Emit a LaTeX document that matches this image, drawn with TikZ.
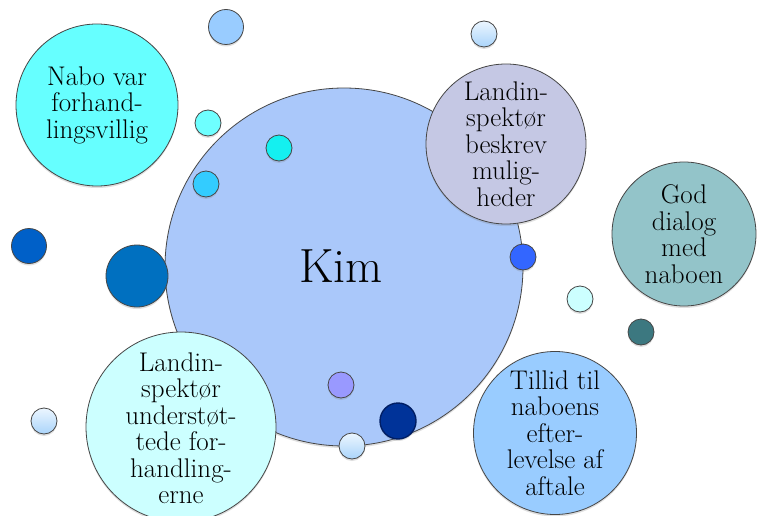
\documentclass[tikz,border=0pt]{standalone}
\usepackage{fontspec}
\usetikzlibrary{shadows}
\definecolor{kimfill}{RGB}{170,200,250}
\definecolor{nabofill}{RGB}{102,255,255}
\definecolor{beskrevfill}{RGB}{197,200,228}
\definecolor{dialogfill}{RGB}{147,196,201}
\definecolor{tillidfill}{RGB}{153,204,255}
\definecolor{understfill}{RGB}{204,255,255}
\definecolor{edgecol}{RGB}{70,70,70}
\definecolor{gradtop}{RGB}{236,246,255}
\definecolor{gradbot}{RGB}{170,212,250}
\tikzset{
  bubble/.style={circle, draw=edgecol, line width=0.8pt, inner sep=0pt, minimum size=#1,
    drop shadow={shadow xshift=0pt, shadow yshift=-2pt, opacity=0.25}},
  lbl/.style={align=center, font=\fontsize{27}{26.5}\selectfont, inner sep=0pt},
  gradbubble/.style={bubble=#1, top color=gradtop, bottom color=gradbot}
}
\begin{document}
\begin{tikzpicture}[x=1pt, y=-1pt]
\useasboundingbox[fill=white] (0,0) rectangle (760,516);
% central circle
\node[bubble=358pt, fill=kimfill] (kim) at (344,267) {};
\node[font=\fontsize{48}{50}\selectfont, inner sep=0pt] (kimtxt) at (341,266) {Kim};
% small circles
\node[bubble=35pt, fill={rgb,255:red,153;green,204;blue,255}] (s1) at (226,27) {};
\node[bubble=26pt, fill={rgb,255:red,110;green,255;blue,255}] (s2) at (208,123) {};
\node[bubble=26pt, fill={rgb,255:red,20;green,240;blue,240}] (s3) at (279,148) {};
\node[bubble=26pt, fill={rgb,255:red,51;green,204;blue,255}] (s4) at (206,184) {};
\node[bubble=35pt, fill={rgb,255:red,0;green,96;blue,200}] (s5) at (29,246) {};
\node[bubble=62pt, fill={rgb,255:red,0;green,112;blue,192}] (s6) at (137,276) {};
\node[gradbubble=26pt] (s7) at (484,34) {};
\node[bubble=26pt, fill={rgb,255:red,51;green,102;blue,255}] (s8) at (523,257) {};
\node[bubble=26pt, fill={rgb,255:red,204;green,255;blue,255}] (s9) at (580,299) {};
\node[bubble=26pt, fill={rgb,255:red,60;green,120;blue,128}] (s10) at (641,332) {};
\node[bubble=26pt, fill={rgb,255:red,153;green,153;blue,255}] (s11) at (341,385) {};
\node[gradbubble=26pt] (s12) at (44,421) {};
% big text bubbles
\node[bubble=162pt, fill=nabofill] (nabo) at (97,105) {};
\node[lbl] at (nabo.center) {Nabo var\\forhand-\\lingsvillig};
\node[bubble=160pt, fill=beskrevfill] (besk) at (506,144) {};
\node[lbl] at (besk.center) {Landin-\\spektør\\beskrev\\mulig-\\heder};
\node[bubble=144pt, fill=dialogfill] (dial) at (684,234) {};
\node[lbl] at (dial.center) {God\\dialog\\med\\naboen};
\node[bubble=163pt, fill=tillidfill] (till) at (555,433) {};
\node[lbl] at (till.center) {Tillid til\\naboens\\efter-\\levelse af\\aftale};
\node[bubble=190pt, fill=understfill] (unds) at (181,427) {};
\node[lbl] at ([yshift=-1pt]unds.center) {Landin-\\spektør\\understøt-\\tede for-\\handling-\\erne};
% circles on top
\node[bubble=36pt, fill={rgb,255:red,0;green,51;blue,153}, line width=1.4pt, draw={rgb,255:red,0;green,30;blue,100}] (s13) at (398,421) {};
\node[gradbubble=26pt] (s14) at (352,446) {};
\end{tikzpicture}
\end{document}
